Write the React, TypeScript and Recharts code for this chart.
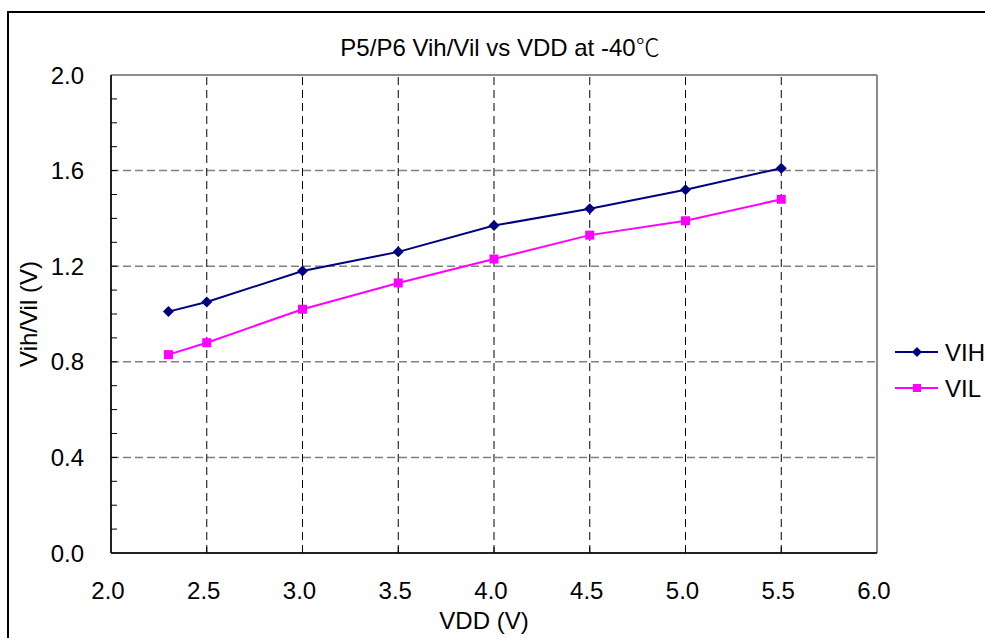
import React from "react"
import { LineChart, Line, XAxis, YAxis, ReferenceLine } from "recharts"

const vdd = [2.3, 2.5, 3.0, 3.5, 4.0, 4.5, 5.0, 5.5]
const vih = [1.01, 1.05, 1.18, 1.26, 1.37, 1.44, 1.52, 1.61]
const vil = [0.83, 0.88, 1.02, 1.13, 1.23, 1.33, 1.39, 1.48]

const xTicks = [2.0, 2.5, 3.0, 3.5, 4.0, 4.5, 5.0, 5.5, 6.0]
const yTicks = [0, 0.1, 0.2, 0.3, 0.4, 0.5, 0.6, 0.7, 0.8, 0.9, 1.0, 1.1, 1.2, 1.3, 1.4, 1.5, 1.6, 1.7, 1.8, 1.9, 2.0]
const yLabelTicks = [0, 0.4, 0.8, 1.2, 1.6, 2.0]
const hGrid = [0.4, 0.8, 1.2, 1.6]
const vGrid = [2.5, 3.0, 3.5, 4.0, 4.5, 5.0, 5.5]

const data = vdd.map((v, i) => ({ vdd: v, vih: vih[i], vil: vil[i] }))

const FONT = "'Liberation Sans', Arial, sans-serif"
const NAVY = "#000080"
const MAGENTA = "#ff00ff"

const Diamond = ({ cx, cy, r = 5.5, fill }: any) => (
  <path d={`M${cx},${cy - r} L${cx + r},${cy} L${cx},${cy + r} L${cx - r},${cy} Z`} fill={fill} />
)

const Square = ({ cx, cy, s = 9, fill }: any) => (
  <rect x={cx - s / 2} y={cy - s / 2} width={s} height={s} fill={fill} />
)

const XTick = (props: any) => {
  const { x, y, payload } = props
  const v = payload.value
  return (
    <g>
      {v > 2 && v < 6 && <line x1={x} y1={y} x2={x} y2={y - 6} stroke="#000" strokeWidth={1} />}
      <text x={x - 3} y={y + 37} textAnchor="middle" dominantBaseline="central" fontSize={24} fontFamily={FONT} fill="#000">
        {v.toFixed(1)}
      </text>
    </g>
  )
}

const YTick = (props: any) => {
  const { x, y, payload } = props
  const v = payload.value
  const labelled = yLabelTicks.some((t) => Math.abs(t - v) < 1e-6)
  return (
    <g>
      {v > 0 && v < 2 && <line x1={x} y1={y} x2={x + 6} y2={y} stroke="#000" strokeWidth={1} />}
      {labelled && (
        <text x={x - 27} y={y} textAnchor="end" dominantBaseline="central" fontSize={24} fontFamily={FONT} fill="#000">
          {v.toFixed(1)}
        </text>
      )}
    </g>
  )
}

const LegendBox = () => (
  <svg width={92} height={66} style={{ display: "block" }}>
    <line x1={2} y1={15} x2={45} y2={15} stroke={NAVY} strokeWidth={2} />
    <Diamond cx={24} cy={15} r={5} fill={NAVY} />
    <text x={52} y={15} dominantBaseline="central" fontSize={24} fontFamily={FONT} fill="#000">VIH</text>
    <line x1={2} y1={51} x2={45} y2={51} stroke={MAGENTA} strokeWidth={2} />
    <Square cx={24} cy={51} s={8} fill={MAGENTA} />
    <text x={52} y={51} dominantBaseline="central" fontSize={24} fontFamily={FONT} fill="#000">VIL</text>
  </svg>
)

export default function App() {
  return (
    <div style={{ position: "absolute", left: 0, top: 0, width: 985, height: 638, overflow: "hidden", background: "#fff", fontFamily: FONT }}>
      <div style={{ position: "absolute", left: 7, top: 11, width: 1000, height: 700, borderLeft: "2px solid #000", borderTop: "2px solid #000" }} />
      <div style={{ position: "absolute", left: 0, top: 34, width: 1000, textAlign: "center", fontSize: 24, lineHeight: "24px", whiteSpace: "nowrap" }}>
        P5/P6 Vih/Vil vs VDD at -40<span style={{ fontFamily: "'Noto Sans CJK SC', sans-serif", fontWeight: 300 }}>℃</span>
      </div>
      <div style={{ position: "absolute", left: 29, top: 314, transform: "translate(-50%, -50%) rotate(-90deg)", fontSize: 24, lineHeight: "24px", whiteSpace: "nowrap" }}>
        Vih/Vil (V)
      </div>
      <div style={{ position: "absolute", left: 484, top: 621, transform: "translate(-50%, -50%)", fontSize: 24, lineHeight: "24px", whiteSpace: "nowrap" }}>
        VDD (V)
      </div>
      <div style={{ position: "absolute", left: 0, top: 0 }}>
        <LineChart width={985} height={638} data={data} margin={{ top: 75, right: 108, bottom: 84, left: 110 }}>
          {hGrid.map((v) => (
            <ReferenceLine key={"h" + v} y={v} stroke="#808080" strokeWidth={1.5} strokeDasharray="8 4" />
          ))}
          {vGrid.map((v) => (
            <ReferenceLine key={"v" + v} x={v} stroke="#000" strokeWidth={1} strokeDasharray="8 5" />
          ))}
          <ReferenceLine y={2} stroke="#8c8c8c" strokeWidth={2} />
          <ReferenceLine x={6} stroke="#8c8c8c" strokeWidth={2} />
          <XAxis
            dataKey="vdd"
            type="number"
            domain={[2, 6]}
            ticks={xTicks}
            interval={0}
            height={1}
            tickSize={0}
            tickMargin={0}
            tickLine={false}
            tick={<XTick />}
            axisLine={{ stroke: "#222", strokeWidth: 2 }}
          />
          <YAxis
            type="number"
            domain={[0, 2]}
            ticks={yTicks}
            interval={0}
            width={1}
            tickSize={0}
            tickMargin={0}
            tickLine={false}
            tick={<YTick />}
            axisLine={{ stroke: "#222", strokeWidth: 2 }}
          />
          <Line
            dataKey="vih"
            name="VIH"
            stroke={NAVY}
            strokeWidth={2}
            isAnimationActive={false}
            dot={(p: any) => <Diamond key={"d" + p.index} cx={p.cx} cy={p.cy} r={5.5} fill={NAVY} />}
            activeDot={false}
          />
          <Line
            dataKey="vil"
            name="VIL"
            stroke={MAGENTA}
            strokeWidth={2}
            isAnimationActive={false}
            dot={(p: any) => <Square key={"s" + p.index} cx={p.cx} cy={p.cy} s={9} fill={MAGENTA} />}
            activeDot={false}
          />
        </LineChart>
      </div>
      <div style={{ position: "absolute", left: 893, top: 337 }}>
        <LegendBox />
      </div>
    </div>
  )
}
